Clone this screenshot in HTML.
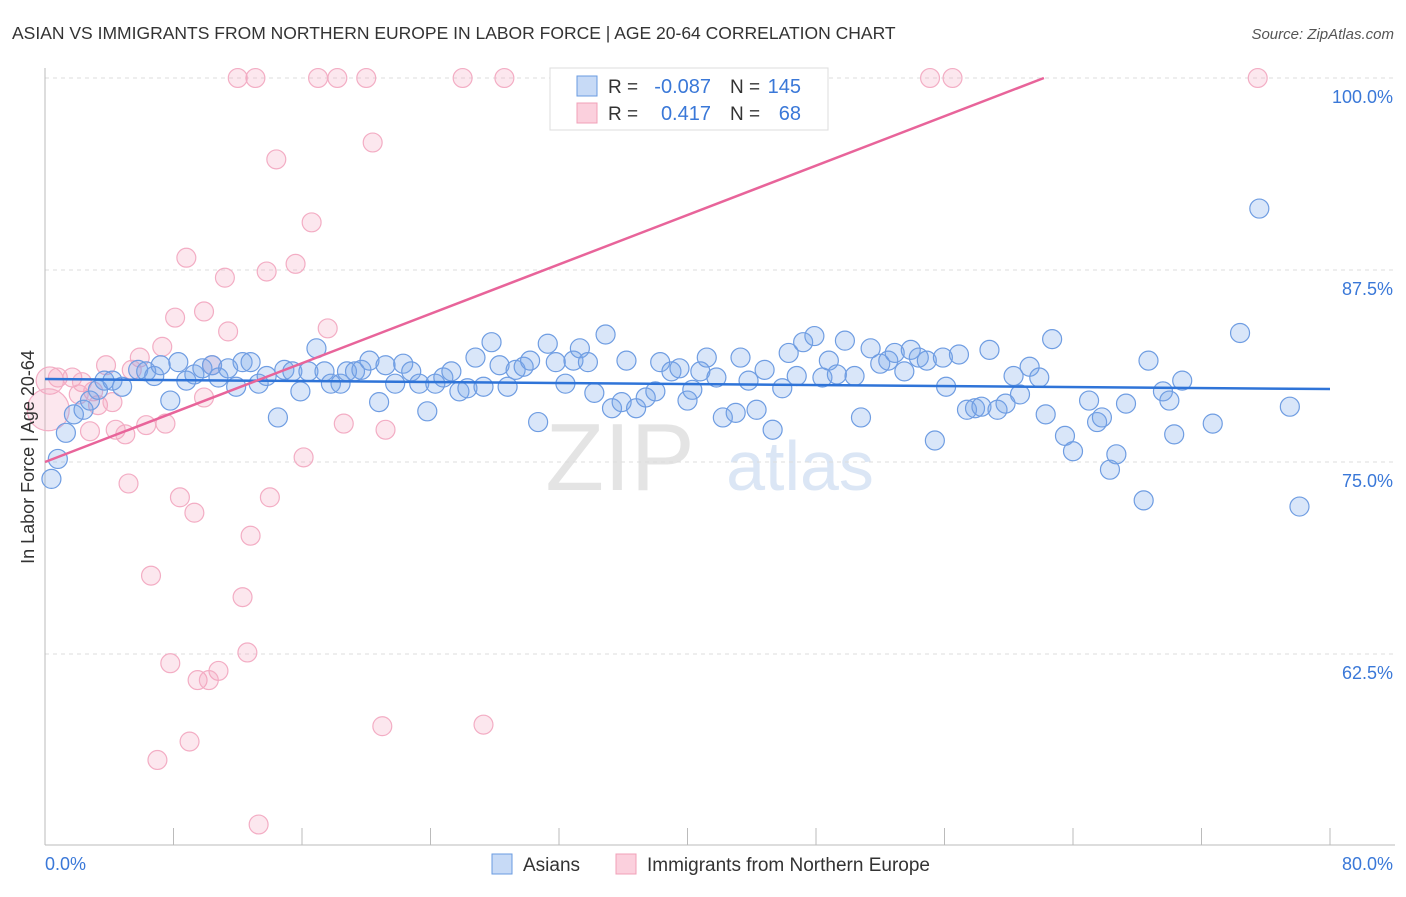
<!DOCTYPE html>
<html><head><meta charset="utf-8"><style>
body{margin:0;background:#fff;font-family:"Liberation Sans",sans-serif}
svg text{font-family:"Liberation Sans",sans-serif}
</style></head><body>
<svg id="chart" width="1406" height="892" viewBox="0 0 1406 892" xmlns="http://www.w3.org/2000/svg">
<text x="12" y="39" font-size="17.5" fill="#333">ASIAN VS IMMIGRANTS FROM NORTHERN EUROPE IN LABOR FORCE | AGE 20-64 CORRELATION CHART</text>
<text x="1394" y="39" font-size="15" fill="#555" font-style="italic" text-anchor="end">Source: ZipAtlas.com</text>
<text x="620" y="490" font-size="96" fill="#e4e4e4" font-family="Liberation Serif" text-anchor="middle">ZIP</text>
<text x="800" y="490" font-size="70" fill="#dbe6f5" text-anchor="middle">atlas</text>
<g id="grid"></g>
<g id="axes"></g>
<g id="pts"></g>
<g id="lines"></g>
<text transform="translate(34,457) rotate(-90)" font-size="18" fill="#333" text-anchor="middle">In Labor Force | Age 20-64</text>
<text x="45" y="870" font-size="18" fill="#3a78d8">0.0%</text>
<text x="1393" y="870" font-size="18" fill="#3a78d8" text-anchor="end">80.0%</text>
<g>
<rect x="550" y="68" width="278" height="62" fill="#fff" stroke="#ddd"/>
<rect x="577" y="76" width="20" height="20" fill="#c7daf6" stroke="#6a9be0"/>
<rect x="577" y="103" width="20" height="20" fill="#fbd0dd" stroke="#f0a0b8"/>
<text x="608" y="93" font-size="19" fill="#333">R =</text>
<text x="711" y="93" font-size="20" fill="#3a78d8" text-anchor="end">-0.087</text>
<text x="730" y="93" font-size="19" fill="#333">N =</text>
<text x="801" y="93" font-size="20" fill="#3a78d8" text-anchor="end">145</text>
<text x="608" y="120" font-size="19" fill="#333">R =</text>
<text x="711" y="120" font-size="20" fill="#3a78d8" text-anchor="end">0.417</text>
<text x="730" y="120" font-size="19" fill="#333">N =</text>
<text x="801" y="120" font-size="20" fill="#3a78d8" text-anchor="end">68</text>
</g>
<g>
<rect x="492" y="854" width="20" height="20" fill="#c7daf6" stroke="#6a9be0"/>
<text x="523" y="871" font-size="19" fill="#333">Asians</text>
<rect x="616" y="854" width="20" height="20" fill="#fbd0dd" stroke="#f0a0b8"/>
<text x="647" y="871" font-size="19" fill="#333">Immigrants from Northern Europe</text>
</g>
</svg>
<script>
const yTicks=[100,87.5,75,62.5];
const yTickLabels=["100.0%","87.5%","75.0%","62.5%"];
const xTicks=[0,8,16,24,32,40,48,56,64,72,80];
const blueX=[0.4,0.8,1.3,1.8,2.4,2.8,3.3,3.7,4.2,4.8,5.8,6.3,6.8,7.2,7.8,8.3,8.8,9.3,9.8,10.4,10.8,11.4,11.9,12.3,12.8,13.3,13.8,14.5,14.9,15.4,15.9,16.4,16.9,17.4,17.8,18.4,18.8,19.3,19.7,20.2,20.8,21.2,21.8,22.3,22.8,23.3,23.8,24.3,24.8,25.3,25.8,26.3,26.8,27.3,27.8,28.3,28.8,29.3,29.8,30.2,30.7,31.3,31.8,32.4,32.9,33.3,33.8,34.2,34.9,35.3,35.9,36.2,36.8,37.4,38.0,38.3,39.0,39.5,40.0,40.3,40.8,41.2,41.8,42.2,43.0,43.3,43.8,44.3,44.8,45.3,45.9,46.3,46.8,47.2,47.9,48.4,48.8,49.3,49.8,50.4,50.8,51.4,52.0,52.5,52.9,53.5,53.9,54.4,54.9,55.4,55.9,56.1,56.9,57.4,57.9,58.3,58.8,59.3,59.8,60.3,60.7,61.3,61.9,62.3,62.7,63.5,64.0,65.0,65.5,65.8,66.3,66.7,67.3,68.4,68.7,69.6,70.0,70.3,70.8,72.7,74.4,75.6,77.5,78.1];
const blueY=[73.9,75.2,76.9,78.1,78.4,79.0,79.7,80.3,80.3,79.9,81.0,80.9,80.6,81.3,79.0,81.5,80.3,80.7,81.1,81.3,80.5,81.1,79.9,81.5,81.5,80.1,80.6,77.9,81.0,80.9,79.6,80.9,82.4,80.9,80.1,80.1,80.9,80.9,81.0,81.6,78.9,81.3,80.1,81.4,80.9,80.1,78.3,80.1,80.5,80.9,79.6,79.8,81.8,79.9,82.8,81.3,79.9,81.0,81.2,81.6,77.6,82.7,81.5,80.1,81.6,82.4,81.5,79.5,83.3,78.5,78.9,81.6,78.5,79.2,79.6,81.5,80.9,81.1,79.0,79.7,80.9,81.8,80.5,77.9,78.2,81.8,80.3,78.4,81.0,77.1,79.8,82.1,80.6,82.8,83.2,80.5,81.6,80.7,82.9,80.6,77.9,82.4,81.4,81.6,82.1,80.9,82.3,81.8,81.6,76.4,81.8,79.9,82.0,78.4,78.5,78.6,82.3,78.4,78.8,80.6,79.4,81.2,80.5,78.1,83.0,76.7,75.7,79.0,77.6,77.9,74.5,75.5,78.8,72.5,81.6,79.6,79.0,76.8,80.3,77.5,83.4,91.5,78.6,72.1];
const pinkX=[12.0,13.1,17.0,18.2,20.0,26.0,28.6,33.0,55.1,56.5,75.5,14.4,20.4,16.6,8.8,11.2,13.8,15.6,8.1,9.9,11.4,17.6,7.3,5.9,3.8,5.4,0.3,0.8,1.7,2.3,3.0,2.1,3.3,4.2,9.9,10.4,6.3,7.5,4.4,5.0,2.8,18.6,21.2,16.1,5.2,8.4,9.3,14.0,12.8,6.6,12.3,12.6,7.8,10.8,9.5,10.2,9.0,7.0,21.0,27.3,13.3,0.2];
const pinkY=[100,100,100,100,100,100,100,100,100,100,100,94.7,95.8,90.6,88.3,87.0,87.4,87.9,84.4,84.8,83.5,83.7,82.5,81.8,81.3,81.0,80.3,80.5,80.5,80.2,79.6,79.4,78.7,78.9,79.2,81.3,77.4,77.5,77.1,76.8,77.0,77.5,77.1,75.3,73.6,72.7,71.7,72.7,70.2,67.6,66.2,62.6,61.9,61.4,60.8,60.8,56.8,55.6,57.8,57.9,51.4,78.4];
const pinkR=[9,9,9,9,9,9,9,9,9,9,9,9,9,9,9,9,9,9,9,9,9,9,9,9,9,9,13,9,9,9,9,9,9,9,9,9,9,9,9,9,9,9,9,9,9,9,9,9,9,9,9,9,9,9,9,9,9,9,9,9,9,20];
const blueTrend=[80.4,79.75];
const pinkTrend=[75.0,0.402];
const NS="http://www.w3.org/2000/svg";
const X=v=>45+v/80*1285;
const Y=v=>78+(100-v)/12.5*192;
function mk(tag,attrs,parent){const e=document.createElementNS(NS,tag);for(const k in attrs)e.setAttribute(k,attrs[k]);document.getElementById(parent).appendChild(e);return e;}
yTicks.forEach((t,i)=>{
const l=mk('line',{x1:45,x2:1395,y1:Y(t),y2:Y(t),stroke:'#ddd','stroke-dasharray':'4,4'},'grid');


const tx=mk('text',{x:1393,y:Y(t)+25,'font-size':18,fill:'#3a78d8','text-anchor':'end'},'grid');
tx.textContent=yTickLabels[i];


});
const ax=mk('line',{x1:45,x2:1395,y1:845,y2:845,stroke:'#bbb'},'axes');


const ay=mk('line',{x1:45,x2:45,y1:68,y2:845,stroke:'#bbb'},'axes');


xTicks.forEach(t=>{
const l=mk('line',{x1:X(t),x2:X(t),y1:828,y2:845,stroke:'#bbb'},'axes');


});
pinkX.forEach((v,i)=>{
const c=mk('circle',{cx:X(v),cy:Y(pinkY[i]),r:pinkR[i]*1.05,fill:'rgba(244,160,188,0.25)',stroke:'#f3adc4','stroke-width':1.2},'pts');


});
blueX.forEach((v,i)=>{
const c=mk('circle',{cx:X(v),cy:Y(blueY[i]),r:9.5,fill:'rgba(120,165,235,0.28)',stroke:'#6f9de2','stroke-width':1.2},'pts');


});
const bl=mk('line',{x1:X(0),y1:Y(blueTrend[0]),x2:X(80),y2:Y(blueTrend[1]),stroke:'#2f74d8','stroke-width':2.5},'lines');


const xEnd=(100-pinkTrend[0])/pinkTrend[1];
const pl=mk('line',{x1:X(0),y1:Y(pinkTrend[0]),x2:X(xEnd),y2:Y(100),stroke:'#e8649a','stroke-width':2.5},'lines');


</script>
</body></html>
